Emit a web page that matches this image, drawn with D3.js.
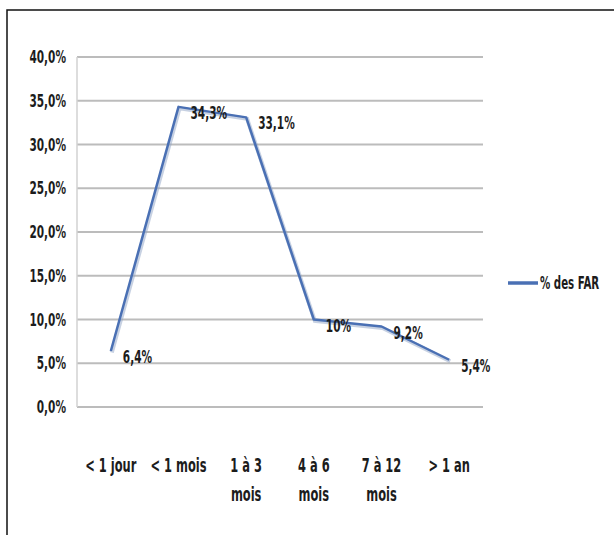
<!DOCTYPE html>
<html>
<head>
<meta charset="utf-8">
<script src="https://cdn.jsdelivr.net/npm/d3@7"></script>
<style>
  html, body { margin: 0; padding: 0; background: #fff; }
  svg { display: block; }
  .t { font-family: "DejaVu Sans Condensed", "DejaVu Sans", sans-serif; font-stretch: condensed; fill: #1c1c1c; font-weight: bold; }
</style>
</head>
<body>
<svg id="chart" width="614" height="535"></svg>
<script>
// Délai de traitement des FAR
const categories = [["< 1 jour"], ["< 1 mois"], ["1 à 3", "mois"], ["4 à 6", "mois"], ["7 à 12", "mois"], ["> 1 an"]];
const values = [0.064, 0.343, 0.331, 0.10, 0.092, 0.054];
const yTicks = [0, 0.05, 0.10, 0.15, 0.20, 0.25, 0.30, 0.35, 0.40];
const seriesName = "% des FAR";

const svg = d3.select("#chart");
const lineColor = "#4a70b4";
const SX = 0.67; // horizontal squeeze for the narrow label face

// draws a narrow text label anchored at (px, py)
function label(parent, px, py, str, size, anchor) {
  return parent.append("text").attr("class", "t")
    .attr("font-size", size)
    .attr("text-anchor", anchor || "start")
    .attr("transform", `translate(${px},${py}) scale(${SX},1)`)
    .text(str);
}

// outer frame (runs past the right and bottom edges)
svg.append("rect")
  .attr("x", 7).attr("y", 10).attr("width", 640).attr("height", 560)
  .attr("fill", "none").attr("stroke", "#111").attr("stroke-width", 1.5);

const plot = { left: 77, right: 483, top: 57, bottom: 407 };

const x = d3.scaleBand()
  .domain(d3.range(categories.length))
  .range([plot.left, plot.right]);
const cx = i => x(i) + x.bandwidth() / 2;

const y = d3.scaleLinear().domain([0, 0.4]).range([plot.bottom, plot.top]);

const pct1 = v => d3.format(".1f")(v * 100).replace(".", ",") + "%";

// horizontal gridlines
svg.append("g").selectAll("line").data(yTicks).join("line")
  .attr("x1", plot.left).attr("x2", plot.right)
  .attr("y1", d => y(d)).attr("y2", d => y(d))
  .attr("stroke", "#bcbcbc").attr("stroke-width", 2);

// plot area left edge
svg.append("line")
  .attr("x1", plot.left).attr("x2", plot.left)
  .attr("y1", y(0.4)).attr("y2", y(0))
  .attr("stroke", "#d2d2d2").attr("stroke-width", 1.5);

// y-axis labels
const gy = svg.append("g");
yTicks.forEach(v => label(gy, 66, y(v) + 6, pct1(v), 17.5, "end"));

// x-axis labels (wrapped in two lines where needed)
const gx = svg.append("g");
categories.forEach((lines, i) => {
  lines.forEach((ln, k) => label(gx, cx(i), 472 + k * 29, ln, 19, "middle"));
});

// series line with a soft shadow
const line = d3.line().x((d, i) => cx(i)).y(d => y(d));
svg.append("path").datum(values)
  .attr("d", line).attr("fill", "none")
  .attr("stroke", "#8fa3c6").attr("stroke-width", 4)
  .attr("transform", "translate(1,1.5)").attr("opacity", 0.5);
svg.append("path").datum(values)
  .attr("d", line).attr("fill", "none")
  .attr("stroke", lineColor).attr("stroke-width", 2.5)
  .attr("stroke-linejoin", "round");

// data labels to the right of each point
const labelFmt = v => pct1(v).replace(",0%", "%");
const gl = svg.append("g");
values.forEach((v, i) => label(gl, cx(i) + 12, y(v) + 12, labelFmt(v), 17.5, "start"));

// legend
svg.append("line")
  .attr("x1", 508).attr("x2", 538).attr("y1", 283).attr("y2", 283)
  .attr("stroke", lineColor).attr("stroke-width", 3.5);
label(svg, 540, 289, seriesName, 17, "start");
</script>
</body>
</html>
